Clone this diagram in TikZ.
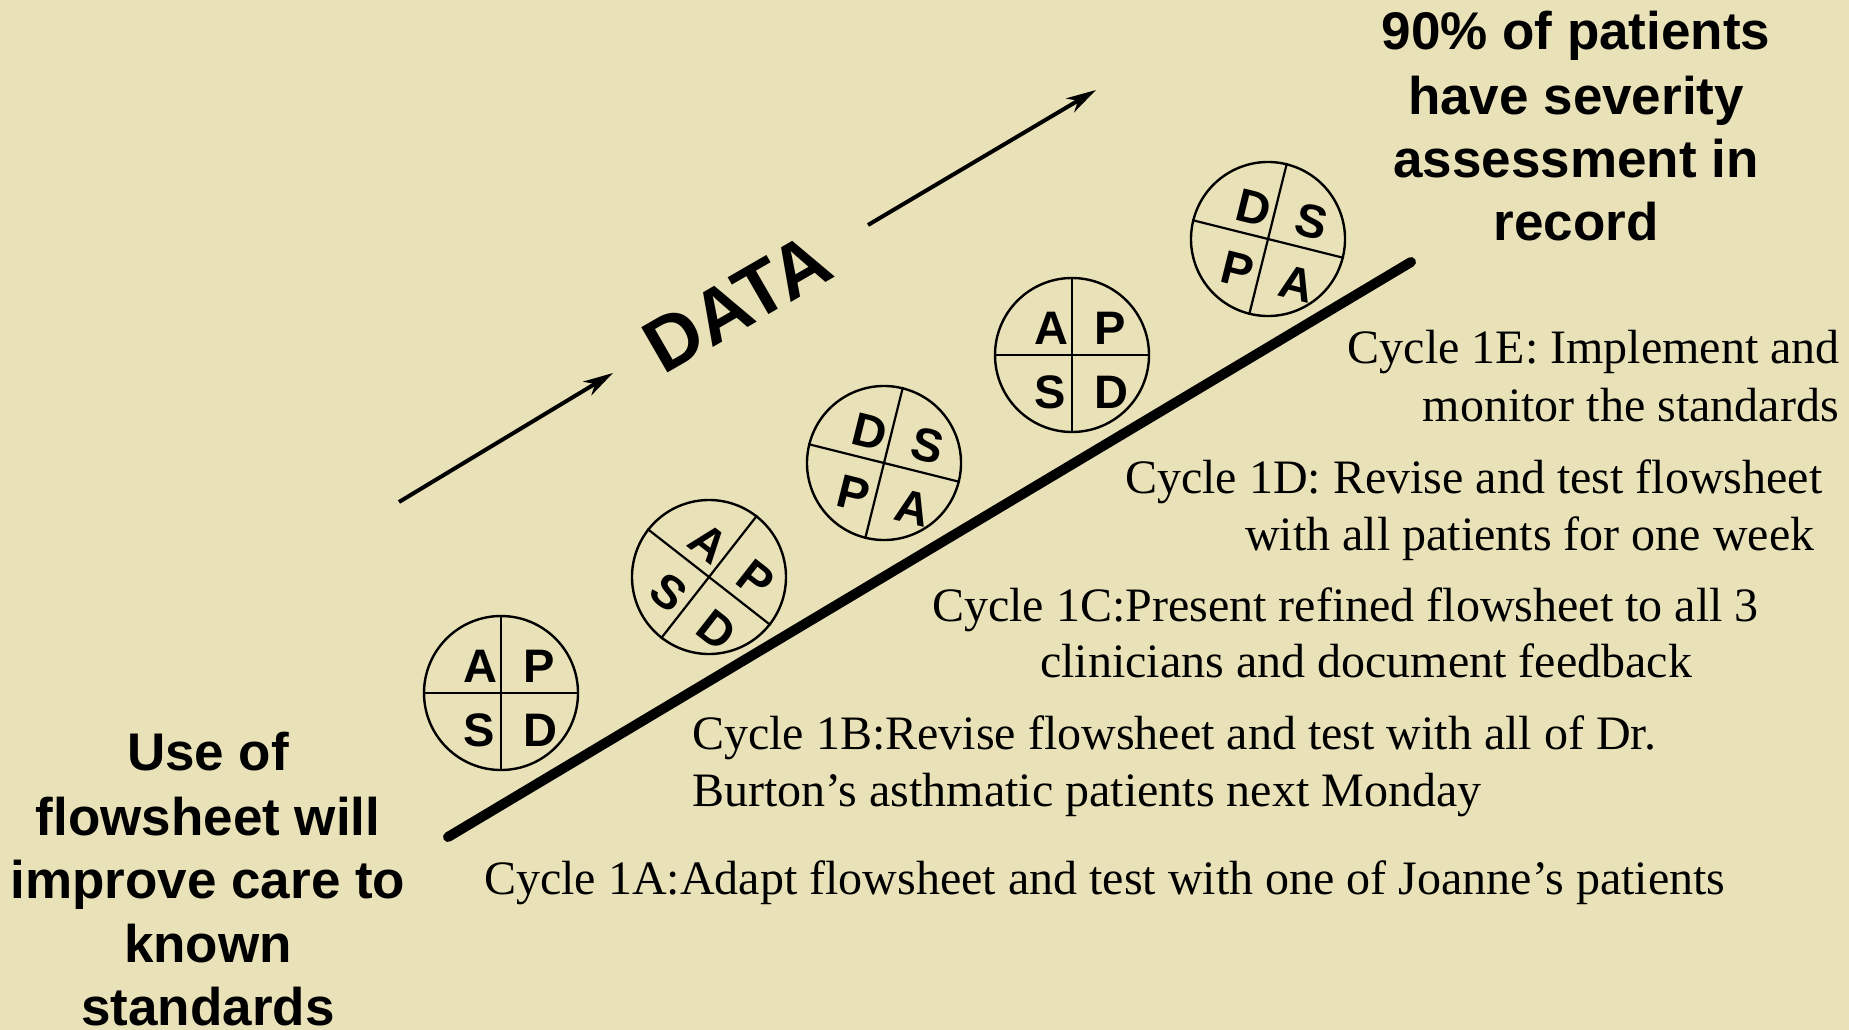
\documentclass[tikz,border=0pt]{standalone}
\usepackage{fontspec}
\setmainfont{Liberation Serif}
\newfontfamily\sansfam{Liberation Sans}
\usetikzlibrary{arrows.meta}
\definecolor{bgtan}{RGB}{233,226,184}
\tikzset{
  pdsacircle/.style={circle, draw, line width=2.4pt, minimum size=154pt, inner sep=0pt, transform shape},
  pdsaline/.style={line width=2.2pt},
  pdsaletter/.style={inner sep=0pt, font=\sansfam\bfseries\fontsize{47}{47}\selectfont, transform shape},
  cycletext/.style={inner sep=0pt, font=\fontsize{48}{57}\selectfont},
  goaltext/.style={inner sep=0pt, anchor=base, font=\sansfam\bfseries\fontsize{53}{64}\selectfont},
  dataarrow/.style={line width=4pt, -{Stealth[length=30pt,width=16pt,inset=9pt]}},
  rampline/.style={line width=10pt, line cap=round},
}
\newcommand{\pdsa}[8]{%
  \begin{scope}[shift={(#2,#3)}, rotate=#4]
    \node[pdsacircle] (#1) at (0,0) {};
    \draw[pdsaline] (#1.west) -- (#1.east);
    \draw[pdsaline] (#1.north) -- (#1.south);
    \node[pdsaletter] (#1tl) at (-21,-27) {#5};
    \node[pdsaletter] (#1tr) at (38,-27) {#6};
    \node[pdsaletter] (#1bl) at (-22,37) {#7};
    \node[pdsaletter] (#1br) at (39,37) {#8};
  \end{scope}}
\begin{document}
\begin{tikzpicture}[x=1pt,y=-1pt]
\useasboundingbox (0,0) rectangle (1849,1030);
\fill[bgtan] (0,0) rectangle (1849,1030);

% ramp
\coordinate (rampstart) at (448,837);
\coordinate (rampend) at (1411,262);
\draw[rampline] (rampstart) -- (rampend);

% PDSA cycles
\pdsa{cA}{501}{693}{0}{A}{P}{S}{D}
\pdsa{cB}{709}{577}{-38}{A}{P}{S}{D}
\pdsa{cC}{884}{463}{-14}{D}{S}{P}{A}
\pdsa{cD}{1072}{355}{0}{A}{P}{S}{D}
\pdsa{cE}{1268}{239}{-14}{D}{S}{P}{A}

% DATA arrows
\coordinate (a1s) at (399,502);
\coordinate (a1e) at (613,373);
\coordinate (a2s) at (868,225);
\coordinate (a2e) at (1096,90);
\draw[dataarrow] (a1s) -- (a1e);
\draw[dataarrow] (a2s) -- (a2e);
\node[rotate=30, inner sep=0pt, font=\sansfam\bfseries\fontsize{76}{76}\selectfont] (data) at (737,303) {DATA};

% goal (top right)
\node[goaltext] (g1) at (1576,50) {90\% of patients};
\node[goaltext] (g2) at (1576,114) {have severity};
\node[goaltext] (g3) at (1576,177) {assessment in};
\node[goaltext] (g4) at (1576,240) {record};

% aim (bottom left)
\node[goaltext] (h1) at (208,770) {Use of};
\node[goaltext] (h2) at (208,835) {flowsheet will};
\node[goaltext] (h3) at (208,898) {improve care to};
\node[goaltext] (h4) at (208,962) {known};
\node[goaltext] (h5) at (208,1025) {standards};

% cycle descriptions
\node[cycletext, anchor=base east] (e1) at (1840,363) {Cycle 1E: Implement and};
\node[cycletext, anchor=base east] (e2) at (1839,421) {monitor the standards};
\node[cycletext, anchor=base west] (d1) at (1125,493) {Cycle 1D: Revise and test flowsheet};
\node[cycletext, anchor=base west] (d2) at (1245,550) {with all patients for one week};
\node[cycletext, anchor=base west] (cc1) at (932,621) {Cycle 1C:Present refined flowsheet to all 3};
\node[cycletext, anchor=base west] (cc2) at (1040,677) {clinicians and document feedback};
\node[cycletext, anchor=base west] (b1) at (692,749) {Cycle 1B:Revise flowsheet and test with all of Dr.};
\node[cycletext, anchor=base west] (b2) at (692,806) {Burton’s asthmatic patients next Monday};
\node[cycletext, anchor=base west] (a1) at (484,894) {Cycle 1A:Adapt flowsheet and test with one of Joanne’s patients};
\end{tikzpicture}
\end{document}
